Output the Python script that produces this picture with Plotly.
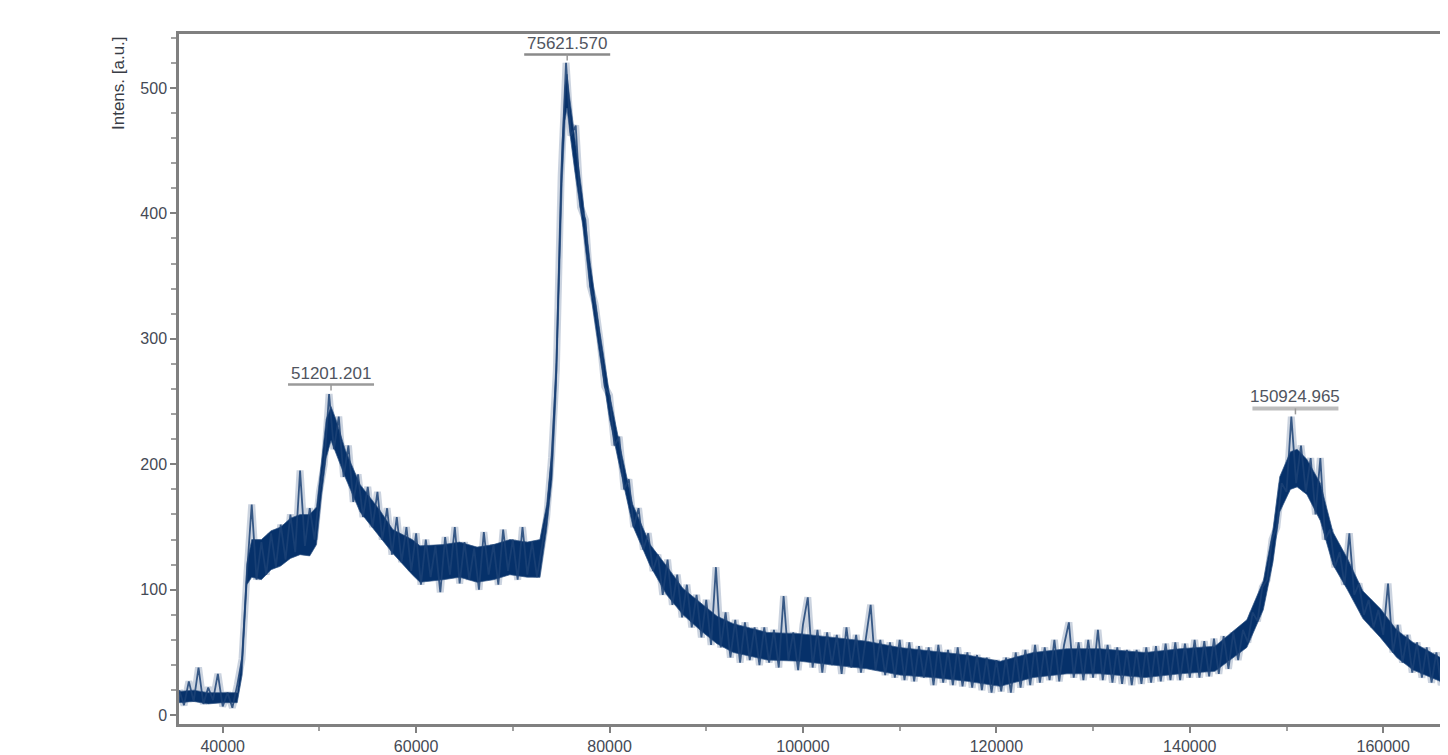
import numpy as np
import plotly.graph_objects as go

# m/z sampling grid of the noisy trace (Da): start, step
mz_start = 35500
mz_step = 500

# Intensities of the raw trace, one row per 5000 Da
intensity = [
    20, 8, 27, 11, 38, 9, 22, 12, 33, 7,            # 35500-40000
    18, 6, 24, 45, 112, 168, 108, 138, 112, 145,     # 40500-45000
    118, 152, 124, 160, 130, 195, 135, 165, 140, 178,  # 45500-50000
    200, 256, 212, 238, 190, 215, 170, 192, 158, 182,  # 50500-55000
    150, 178, 140, 165, 128, 158, 122, 150, 115, 145,  # 55500-60000
    104, 140, 110, 135, 98, 142, 112, 150, 105, 138,   # 60500-65000
    108, 133, 100, 146, 112, 136, 104, 148, 115, 140,  # 65500-70000
    108, 150, 112, 138, 110, 135, 158, 205, 275, 430,  # 70500-75000
    520, 462, 470, 405, 395, 342, 328, 300, 262, 255,  # 75500-80000
    215, 222, 180, 188, 150, 165, 132, 145, 115, 128,  # 80500-85000
    96, 124, 88, 112, 78, 104, 70, 96, 62, 92,         # 85500-90000
    56, 118, 54, 82, 46, 76, 42, 74, 44, 70,           # 90500-95000
    40, 70, 42, 68, 38, 95, 44, 66, 36, 72,            # 95500-100000
    94, 38, 68, 34, 66, 40, 64, 33, 70, 38,            # 100500-105000
    64, 34, 62, 88, 36, 60, 32, 58, 30, 60,            # 105500-110000
    28, 58, 27, 55, 30, 54, 24, 56, 26, 52,            # 110500-115000
    24, 54, 23, 50, 22, 48, 20, 46, 18, 44,            # 115500-120000
    19, 46, 18, 50, 22, 52, 24, 56, 26, 54,            # 120500-125000
    28, 60, 27, 56, 74, 30, 58, 28, 60, 30,            # 125500-130000
    68, 28, 56, 26, 54, 25, 52, 24, 52, 25,            # 130500-135000
    54, 26, 55, 27, 57, 28, 58, 28, 57, 30,            # 135500-140000
    60, 30, 59, 31, 61, 33, 63, 37, 66, 44,            # 140500-145000
    68, 58, 82, 75, 102, 108, 140, 150, 185, 178,      # 145500-150000
    238, 185, 215, 178, 205, 160, 205, 140, 148, 118,  # 150500-155000
    130, 104, 145, 96, 105, 80, 92, 70, 84, 64,        # 155500-160000
    105, 50, 72, 42, 64, 34, 58, 30, 54, 26,           # 160500-165000
    50, 24, 44,                                        # 165500-166500
]
mz = mz_start + mz_step * np.arange(len(intensity))

# Dense dark core of the trace: m/z nodes with lower / upper edge
core_mz = [35500, 37000, 38500, 40000, 41500, 42000, 42500, 43000, 44000, 45000,
           46000, 47000, 48000, 49000, 49700, 50200, 50700, 51200, 51700, 52700,
           54200, 56200, 57600, 59600, 60400, 62800, 64500, 66300, 68000, 69700,
           71500, 72800, 73500, 74050, 74460, 74700, 75100, 75400, 75600, 75900,
           76400, 77250, 78000, 79000, 80000, 81100, 82400, 84200, 85900, 87600,
           89350, 91100, 92800, 96300, 99700, 103100, 106600, 110000, 113400, 117000,
           120400, 123800, 127300, 130700, 135400, 139000, 142600, 145900, 147600, 148600,
           149300, 150400, 151100, 152100, 153500, 154800, 156300, 157900, 159700, 161400,
           163100, 165900, 166700]
core_lo = [10, 11, 9, 10, 10, 32, 104, 110, 108, 116,
           119, 125, 128, 127, 136, 174, 205, 219, 209, 189,
           162, 143, 129, 112, 106, 108, 110, 106, 108, 112,
           110, 110, 148, 188, 254, 314, 424, 474, 484, 464,
           434, 389, 339, 286, 236, 196, 151, 119, 96, 80,
           68, 57, 50, 44, 43, 40, 37, 32, 30, 27,
           23, 30, 33, 33, 30, 33, 35, 54, 84, 122,
           162, 180, 182, 176, 155, 120, 100, 77, 62, 46,
           36, 27, 25]
core_hi = [19, 20, 18, 18, 18, 48, 121, 140, 140, 147,
           150, 157, 160, 160, 166, 201, 236, 246, 236, 211,
           184, 164, 148, 140, 135, 136, 138, 134, 136, 140,
           138, 140, 168, 211, 281, 346, 456, 501, 511, 491,
           461, 411, 361, 306, 256, 214, 168, 136, 119, 101,
           90, 79, 73, 66, 65, 62, 59, 54, 51, 48,
           43, 50, 53, 53, 50, 53, 55, 76, 107, 148,
           190, 210, 212, 204, 185, 146, 125, 99, 85, 68,
           58, 46, 44]

# Labelled peaks
peak_mz = [51201.201, 75621.570, 150924.965]
peak_int = [258, 521, 239]
peak_text = ["51201.201", "75621.570", "150924.965"]
underline_col = ["#9a9a9a", "#8a8a8a", "#bdbdbd"]
underline_w = [2.5, 2.5, 4]

x_range = [35481, 166700]
y_range = [-7, 543]

navy = "#06316a"
fig = go.Figure()
# light halo of the raw trace
fig.add_trace(go.Scatter(x=mz, y=intensity, mode="lines",
                         line=dict(color="rgba(125,146,175,0.40)", width=7),
                         hoverinfo="skip", showlegend=False))
# dense dark core
fig.add_trace(go.Scatter(x=core_mz, y=core_lo, mode="lines",
                         line=dict(color="rgba(50,85,132,0.7)", width=1),
                         hoverinfo="skip", showlegend=False))
fig.add_trace(go.Scatter(x=core_mz, y=core_hi, mode="lines", fill="tonexty",
                         fillcolor=navy, line=dict(color="rgba(50,85,132,0.7)", width=1),
                         hoverinfo="skip", showlegend=False))
# raw trace (spikes) on top
fig.add_trace(go.Scatter(x=mz, y=intensity, mode="lines",
                         line=dict(color="rgba(28,66,118,0.85)", width=1.8),
                         showlegend=False))

font_fam = "Liberation Sans, Arial, sans-serif"
for px_, py_, t, c, w in zip(peak_mz, peak_int, peak_text, underline_col, underline_w):
    fig.add_annotation(x=px_, y=py_, xref="x", yref="y", text=t, showarrow=False,
                       yanchor="bottom", xanchor="center", yshift=7,
                       font=dict(family=font_fam, size=17, color="#505560"))
    fig.add_shape(type="line", xref="x", yref="y", xsizemode="pixel", ysizemode="pixel",
                  xanchor=px_, yanchor=py_, x0=-43, x1=43, y0=7, y1=7,
                  line=dict(color=c, width=w))
    fig.add_shape(type="line", xref="x", yref="y", xsizemode="pixel", ysizemode="pixel",
                  xanchor=px_, yanchor=py_, x0=0, x1=0, y0=1, y1=7,
                  line=dict(color="#999999", width=1.5))

fig.add_annotation(text="Intens. [a.u.]", xref="paper", yref="paper", x=0, y=1,
                   xshift=-61, xanchor="center", yanchor="top", textangle=-90,
                   showarrow=False, font=dict(family=font_fam, size=17, color="#383c45"))

axis_common = dict(showline=True, linecolor="#808080", linewidth=2.5, ticks="outside",
                   ticklen=6, tickwidth=2, tickcolor="#808080", showgrid=False,
                   zeroline=False,
                   tickfont=dict(family=font_fam, size=16, color="#454a55"))
fig.update_xaxes(range=x_range, tick0=40000, dtick=20000, tickformat="d", mirror=True,
                 minor=dict(dtick=10000, ticklen=4, tickcolor="#a0a0a0", tickwidth=2,
                            ticks="outside"),
                 **axis_common)
fig.update_yaxes(range=y_range, tick0=0, dtick=100,
                 minor=dict(dtick=20, ticklen=5, tickcolor="#a0a0a0", tickwidth=2,
                            ticks="outside"),
                 **axis_common)
# page body adds an 8 px offset, so the figure is 8 px smaller on each axis
fig.update_layout(width=1440, height=747, margin=dict(l=171, r=0, t=26, b=27),
                  plot_bgcolor="white", paper_bgcolor="white")
fig.write_html("out.html")
